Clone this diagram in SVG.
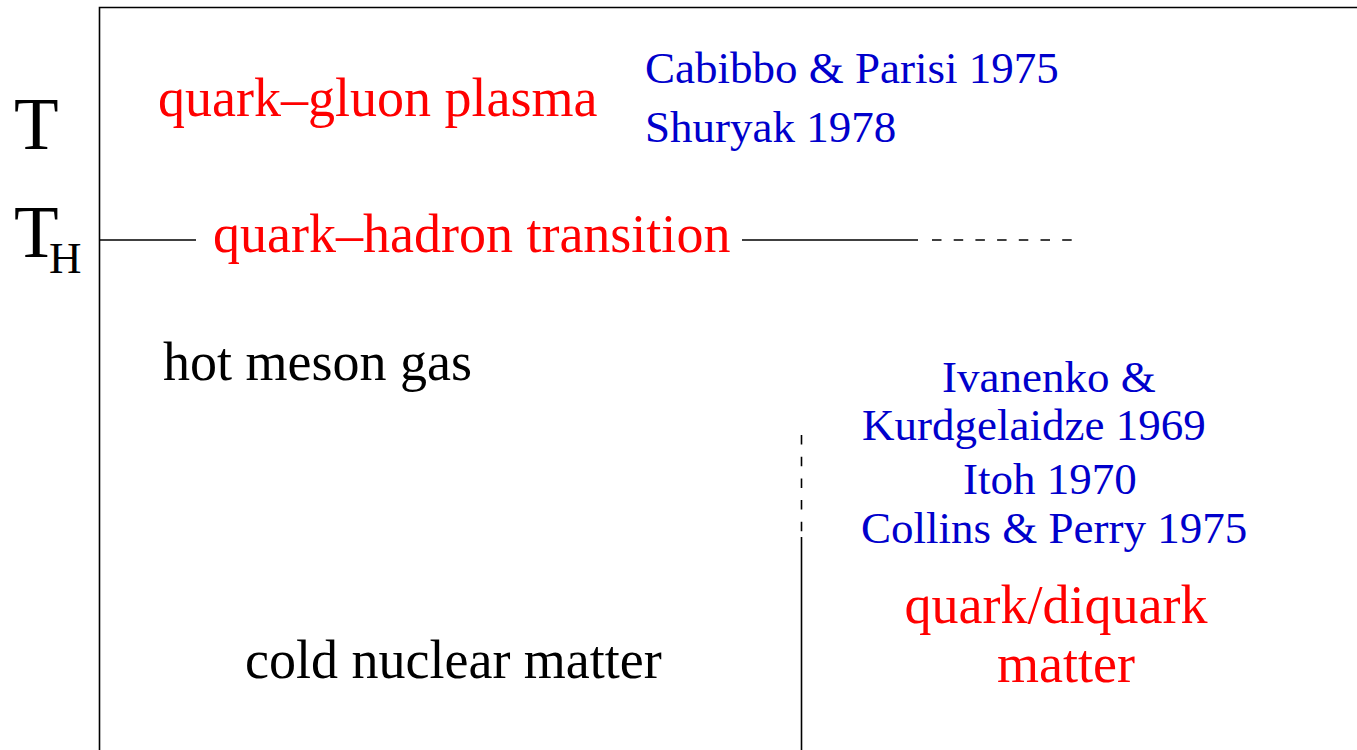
<svg xmlns="http://www.w3.org/2000/svg" width="1357" height="750" viewBox="0 0 1357 750">
<style>
text{font-family:"Liberation Serif","Times New Roman",serif}
.red{fill:#ff0000;font-size:54px}
.blk{fill:#000;font-size:54px}
.blu{fill:#0000cc;font-size:45px}
.ax{stroke:#000;stroke-width:1.6;fill:none}
.dash{stroke:#000;stroke-width:1.6;fill:none;stroke-dasharray:9.5 12.2}
</style>
<rect width="1357" height="750" fill="#fff"/>
<g id="axes">
<path class="ax" d="M99.5,750 V7.5 H1357"/>
<text x="14" y="149" style="font-size:73px;fill:#000">T</text>
<text x="14" y="257" style="font-size:73px;fill:#000">T</text>
<text x="49" y="273" style="font-size:45px;fill:#000">H</text>
</g>
<g id="connectors">
<line class="ax" x1="99.5" y1="240" x2="196" y2="240"/>
<line class="ax" x1="742" y1="240" x2="918" y2="240"/>
<line class="dash" x1="932" y1="240" x2="1072" y2="240"/>
<line class="dash" x1="801.5" y1="435" x2="801.5" y2="533"/>
<line class="ax" x1="801.5" y1="537" x2="801.5" y2="750"/>
</g>
<g id="qgp"><text class="red" x="158" y="116">quark–gluon plasma</text></g>
<g id="refs-qgp">
<text class="blu" x="645" y="83">Cabibbo &amp; Parisi 1975</text>
<text class="blu" x="645" y="142">Shuryak 1978</text>
</g>
<g id="transition"><text class="red" x="213" y="252">quark–hadron transition</text></g>
<g id="meson"><text class="blk" x="163" y="380">hot meson gas</text></g>
<g id="nuclear"><text class="blk" x="245" y="678">cold nuclear matter</text></g>
<g id="refs-qm">
<text class="blu" x="942" y="392">Ivanenko &amp;</text>
<text class="blu" x="862" y="440">Kurdgelaidze 1969</text>
<text class="blu" x="963" y="494">Itoh 1970</text>
<text class="blu" x="861" y="543">Collins &amp; Perry 1975</text>
</g>
<g id="quarkmatter">
<text class="red" x="1056" y="623" text-anchor="middle">quark/diquark</text>
<text class="red" x="1066" y="682" text-anchor="middle">matter</text>
</g>
</svg>
